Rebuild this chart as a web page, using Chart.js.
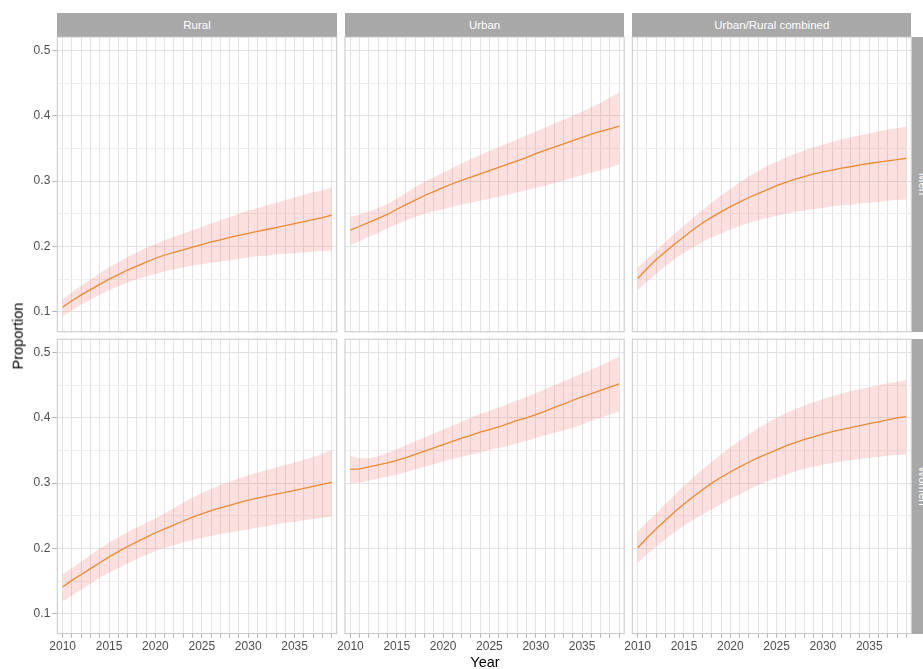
<!DOCTYPE html>
<html>
<head>
<meta charset="utf-8">
<title>Projected proportion, 2010-2039</title>
<script src="https://cdn.jsdelivr.net/npm/chart.js@4.4.1/dist/chart.umd.min.js"></script>
<style>
  html, body { margin: 0; padding: 0; background: #fff; overflow: hidden; }
  body { position: relative; width: 923px; height: 669px; font-family: "Liberation Sans", Arial, sans-serif; }
  canvas.panel { position: absolute; left: 0; top: 0; }
  .strip { position: absolute; background: #a8a8a8; color: #fff; font-size: 11.5px;
           display: flex; align-items: center; justify-content: center; white-space: nowrap; }
  .strip.side span { transform: rotate(90deg); }
  .axis-title { position: absolute; color: #000; font-size: 14.5px; line-height: 1; white-space: nowrap; }
</style>
</head>
<body>
<div id="stage"></div>
<div class="axis-title" id="ytitle" style="left:18px; top:336px; transform: translate(-50%, -50%) rotate(-90deg);">Proportion</div>
<div class="axis-title" id="xtitle" style="left:485px; top:655px; transform: translateX(-50%);">Year</div>

<script>
/* ========================================================
   Proportion by year — facet grid (sex x area)
   ======================================================== */

const years = [2010, 2011, 2012, 2013, 2014, 2015, 2016, 2017, 2018, 2019,
               2020, 2021, 2022, 2023, 2024, 2025, 2026, 2027, 2028, 2029,
               2030, 2031, 2032, 2033, 2034, 2035, 2036, 2037, 2038, 2039];
const yearLabels = [2010, 2015, 2020, 2025, 2030, 2035];
const yTicks = [0.1, 0.15, 0.2, 0.25, 0.3, 0.35, 0.4, 0.45, 0.5];
const yTickLabels = [0.1, 0.2, 0.3, 0.4, 0.5];

const colLabels = ['Rural', 'Urban', 'Urban/Rural combined'];
const rowLabels = ['Men', 'Women'];

/* ---------- Men ---------- */
const ruralMen    = [.107, .117, .126, .134, .142, .150, .157, .164, .170, .176, .182, .187, .191, .195, .199, .203, .207, .210, .214, .217, .220, .223, .226, .229, .232, .235, .238, .241, .244, .248];
const ruralMenHi  = [.119, .130, .140, .150, .159, .168, .176, .184, .191, .198, .204, .210, .215, .220, .225, .230, .235, .240, .245, .250, .255, .259, .263, .267, .271, .275, .279, .283, .286, .290];
const ruralMenLo  = [.093, .102, .111, .119, .126, .133, .139, .145, .150, .154, .158, .162, .165, .168, .171, .173, .175, .177, .179, .181, .183, .185, .186, .188, .189, .190, .191, .192, .193, .194];

const urbanMen    = [.225, .231, .237, .243, .249, .257, .264, .271, .278, .284, .290, .296, .301, .306, .311, .316, .321, .326, .331, .336, .342, .347, .352, .357, .362, .367, .372, .376, .380, .384];
const urbanMenHi  = [.245, .249, .254, .259, .265, .273, .282, .291, .299, .306, .313, .320, .327, .334, .340, .346, .352, .358, .364, .370, .376, .382, .388, .394, .400, .406, .413, .420, .428, .436];
const urbanMenLo  = [.202, .208, .215, .221, .228, .234, .240, .245, .250, .254, .257, .261, .264, .267, .270, .273, .276, .279, .283, .286, .290, .293, .297, .301, .305, .309, .313, .317, .321, .326];

const bothMen     = [.151, .166, .180, .192, .204, .215, .226, .236, .245, .253, .261, .268, .275, .281, .287, .293, .298, .303, .307, .311, .314, .317, .320, .322, .325, .327, .329, .331, .333, .335];
const bothMenHi   = [.168, .181, .194, .207, .220, .232, .244, .256, .267, .278, .288, .298, .307, .315, .323, .330, .336, .342, .347, .352, .356, .360, .364, .367, .370, .373, .376, .379, .381, .384];
const bothMenLo   = [.133, .146, .158, .170, .181, .190, .199, .207, .214, .220, .226, .231, .236, .240, .244, .247, .250, .253, .255, .257, .259, .261, .263, .264, .266, .267, .268, .270, .271, .272];

/* ---------- Women ---------- */
const ruralWomen   = [.141, .151, .160, .169, .178, .187, .195, .203, .210, .217, .224, .230, .236, .242, .248, .253, .258, .262, .266, .270, .274, .277, .280, .283, .286, .289, .292, .295, .298, .301];
const ruralWomenHi = [.160, .170, .180, .190, .200, .209, .217, .225, .232, .239, .246, .254, .262, .270, .278, .285, .291, .297, .302, .307, .312, .316, .320, .324, .328, .332, .336, .340, .345, .351];
const ruralWomenLo = [.119, .128, .137, .146, .155, .163, .170, .177, .184, .190, .196, .201, .205, .209, .213, .216, .219, .222, .224, .227, .229, .232, .234, .237, .239, .241, .243, .245, .247, .249];

const urbanWomen   = [.321, .322, .325, .328, .331, .335, .339, .344, .349, .354, .359, .364, .369, .373, .378, .382, .386, .391, .396, .400, .405, .410, .416, .421, .427, .432, .437, .442, .447, .452];
const urbanWomenHi = [.341, .338, .338, .341, .346, .352, .358, .364, .370, .376, .382, .388, .394, .400, .406, .411, .416, .421, .427, .432, .438, .444, .450, .456, .462, .468, .474, .480, .487, .494];
const urbanWomenLo = [.300, .301, .304, .307, .310, .313, .317, .321, .325, .329, .333, .337, .340, .344, .347, .351, .354, .357, .361, .365, .369, .373, .377, .381, .385, .390, .395, .400, .405, .410];

const bothWomen    = [.201, .216, .230, .243, .256, .268, .279, .290, .300, .309, .317, .325, .332, .339, .345, .351, .357, .362, .367, .371, .375, .379, .382, .385, .388, .391, .394, .397, .400, .402];
const bothWomenHi  = [.226, .240, .254, .268, .282, .296, .309, .321, .333, .344, .355, .365, .375, .384, .392, .400, .407, .413, .419, .424, .429, .433, .437, .441, .444, .447, .450, .453, .455, .458];
const bothWomenLo  = [.178, .191, .203, .214, .225, .235, .244, .252, .260, .268, .276, .283, .290, .297, .303, .308, .313, .318, .322, .325, .328, .331, .333, .335, .337, .339, .340, .342, .343, .344];

(function () {
  'use strict';

  const FONT = '"Liberation Sans", Arial, sans-serif';
  const W = 923, H = 669;
  const Y_AXIS_W = 57.3;   // room for y tick labels (left column)
  const X_AXIS_H = 30;     // room for x tick labels (bottom row)

  /* panel rectangles, page pixels */
  const COLS = [{ left: 57.3, right: 336.7 }, { left: 345, right: 624.2 }, { left: 632.3, right: 911.3 }];
  const ROWS = [{ top: 37, bottom: 331.8 }, { top: 339.2, bottom: 633.6 }];

  const panels = [
    [[ruralMen, ruralMenLo, ruralMenHi], [urbanMen, urbanMenLo, urbanMenHi], [bothMen, bothMenLo, bothMenHi]],
    [[ruralWomen, ruralWomenLo, ruralWomenHi], [urbanWomen, urbanWomenLo, urbanWomenHi], [bothWomen, bothWomenLo, bothWomenHi]],
  ];

  const stage = document.getElementById('stage');
  const pts = (vals) => years.map((yr, i) => ({ x: yr, y: vals[i] }));
  const isMajorY = (v) => yTickLabels.some((t) => Math.abs(t - v) < 1e-9);

  /* ---------- Panel border plugin ---------- */
  const panelBorder = {
    id: 'panelBorder',
    afterDraw(chart) {
      const { ctx, chartArea: a } = chart;
      ctx.save();
      ctx.strokeStyle = '#c6c6c6';
      ctx.lineWidth = 1;
      ctx.strokeRect(a.left, a.top, a.right - a.left, a.bottom - a.top);
      ctx.restore();
    },
  };

  /* ---------- One chart per facet ---------- */
  function drawPanel(row, col) {
    const [line, lo, hi] = panels[row][col];
    const isLeft = col === 0;
    const isBottom = row === ROWS.length - 1;
    const c = COLS[col], r = ROWS[row];

    const canvas = document.createElement('canvas');
    canvas.className = 'panel';
    canvas.width = W;
    canvas.height = H;
    stage.appendChild(canvas);

    new Chart(canvas, {
      type: 'line',
      data: {
        datasets: [
          { data: pts(line), borderColor: '#ec8a30', borderWidth: 1.3, pointRadius: 0, fill: false },
          { data: pts(hi), borderWidth: 0, pointRadius: 0, fill: '+1', backgroundColor: 'rgba(242,112,112,0.22)' },
          { data: pts(lo), borderWidth: 0, pointRadius: 0, fill: false },
        ],
      },
      options: {
        responsive: false,
        animation: false,
        devicePixelRatio: 1,
        events: [],
        layout: {
          autoPadding: false,
          padding: {
            left: c.left - (isLeft ? Y_AXIS_W : 0),
            right: W - c.right,
            top: r.top,
            bottom: H - r.bottom - (isBottom ? X_AXIS_H : 0),
          },
        },
        plugins: { legend: { display: false }, tooltip: { enabled: false } },
        scales: {
          x: {
            type: 'linear',
            min: 2009.42,
            max: 2039.54,
            afterBuildTicks: (s) => { s.ticks = years.map((v) => ({ value: v })); },
            afterFit: (s) => { s.height = isBottom ? X_AXIS_H : 0; s.paddingLeft = 0; s.paddingRight = 0; },
            border: { display: false },
            grid: { color: '#e2e2e2', lineWidth: 1, drawTicks: isBottom, tickLength: 4, tickColor: '#b3b3b3' },
            ticks: {
              display: isBottom,
              autoSkip: false,
              maxRotation: 0,
              padding: 2,
              color: '#4d4d4d',
              font: { family: FONT, size: 12 },
              callback: (v) => (yearLabels.includes(v) ? String(v) : ''),
            },
          },
          y: {
            type: 'linear',
            min: 0.0695,
            max: 0.5205,
            afterBuildTicks: (s) => { s.ticks = yTicks.map((v) => ({ value: v })); },
            afterFit: (s) => { s.width = isLeft ? Y_AXIS_W : 0; s.paddingTop = 0; s.paddingBottom = 0; },
            border: { display: false },
            grid: {
              color: (ctx) => (isMajorY(ctx.tick.value) ? '#e2e2e2' : '#eeeeee'),
              lineWidth: 1,
              drawTicks: isLeft,
              tickLength: 5,
              tickColor: (ctx) => (isMajorY(ctx.tick.value) ? '#b3b3b3' : 'rgba(0,0,0,0)'),
            },
            ticks: {
              display: isLeft,
              padding: 2,
              color: '#4d4d4d',
              font: { family: FONT, size: 12 },
              callback: (v) => (isMajorY(v) ? v.toFixed(1) : ''),
            },
          },
        },
      },
      plugins: [panelBorder],
    });
  }

  /* ---------- Strips ---------- */
  function addStrip(text, left, top, width, height, side) {
    const d = document.createElement('div');
    d.className = side ? 'strip side' : 'strip';
    Object.assign(d.style, { left: left + 'px', top: top + 'px', width: width + 'px', height: height + 'px' });
    const s = document.createElement('span');
    s.textContent = text;
    d.appendChild(s);
    stage.appendChild(d);
  }

  COLS.forEach((c, i) => addStrip(colLabels[i], c.left, 13, c.right - c.left, ROWS[0].top - 13, false));
  ROWS.forEach((r, i) => addStrip(rowLabels[i], 911.7, r.top, 22, r.bottom - r.top, true));

  /* ---------- Init ---------- */
  for (let row = 0; row < ROWS.length; row++) {
    for (let col = 0; col < COLS.length; col++) drawPanel(row, col);
  }
})();
</script>
</body>
</html>
